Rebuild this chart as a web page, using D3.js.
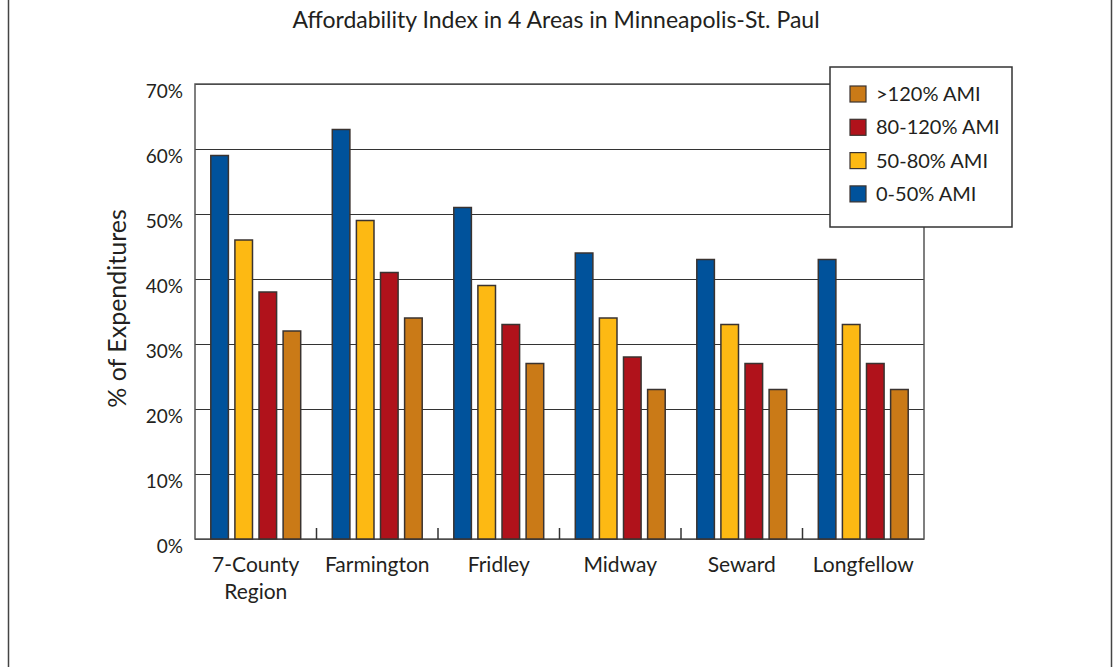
<!DOCTYPE html>
<html>
<head>
<meta charset="utf-8">
<script src="https://cdn.jsdelivr.net/npm/d3@7"></script>
<style>
  body { margin: 0; background: #fff; }
  svg { display: block; font-family: Lato, "Open Sans", sans-serif; }
</style>
</head>
<body>
<div id="chart"></div>
<script>
// categories and series
const areas = ['7-County Region', 'Farmington', 'Fridley', 'Midway', 'Seward', 'Longfellow'];
const series = ['0-50% AMI', '50-80% AMI', '80-120% AMI', '>120% AMI'];
const seriesColors = ['#00529b', '#fdb913', '#b0121b', '#ca7a17'];

// values in % of expenditures, one array per series
const ami0to50 = [59, 63, 51, 44, 43, 43];
const ami50to80 = [46, 49, 39, 34, 33, 33];
const ami80to120 = [38, 41, 33, 28, 27, 27];
const amiOver120 = [32, 34, 27, 23, 23, 23];

const yTicks = [0, 10, 20, 30, 40, 50, 60, 70];

const data = areas.map((a, i) => ({
    area: a,
    values: [ami0to50[i], ami50to80[i], ami80to120[i], amiOver120[i]]
}));

const width = 1115;
const height = 667;
const margin = { top: 84, right: 191, bottom: 128, left: 195 };
const w = width - margin.left - margin.right;
const h = height - margin.top - margin.bottom;

const svg = d3.select('#chart').append('svg')
    .attr('width', width)
    .attr('height', height);

// outer border lines (left and right only)
svg.append('line').attr('x1', 8.5).attr('x2', 8.5).attr('y1', 0).attr('y2', height)
    .attr('stroke', '#444').attr('stroke-width', 1.5);
svg.append('line').attr('x1', 1111.5).attr('x2', 1111.5).attr('y1', 0).attr('y2', height)
    .attr('stroke', '#444').attr('stroke-width', 1.5);

svg.append('text')
    .attr('x', 556).attr('y', 28)
    .attr('text-anchor', 'middle')
    .style('font-size', '23px').style('fill', '#231f20')
    .text('Affordability Index in 4 Areas in Minneapolis-St. Paul');

const g = svg.append('g').attr('transform', `translate(${margin.left},${margin.top})`);

const x0 = d3.scaleBand().domain(areas).range([0, w]).paddingInner(0.26).paddingOuter(0.13);
const x1 = d3.scaleBand().domain(series).range([0, x0.bandwidth()]).paddingInner(0.27);
const y = d3.scaleLinear().domain([0, 70]).range([h, 0]);

// y axis with gridlines
const yAxis = g.append('g')
    .call(d3.axisLeft(y).tickValues(yTicks).tickSize(-w).tickPadding(12).tickFormat(d => d + '%'));
yAxis.select('.domain').remove();
yAxis.selectAll('.tick line').attr('stroke', '#333').attr('stroke-width', 1.2);
yAxis.selectAll('.tick text')
    .attr('dy', '0.95em')
    .attr('y', -5)
    .style('font-size', '19px').style('fill', '#231f20')
    .style('font-family', 'Lato, "Open Sans", sans-serif');

// plot frame
g.append('rect').attr('width', w).attr('height', h)
    .attr('fill', 'none').attr('stroke', '#555').attr('stroke-width', 1.5);

// ticks between categories
g.append('g').selectAll('line')
    .data(areas.slice(1))
    .join('line')
    .attr('x1', d => x0(d) - x0.step() * x0.paddingInner() / 2)
    .attr('x2', d => x0(d) - x0.step() * x0.paddingInner() / 2)
    .attr('y1', h).attr('y2', h - 11)
    .attr('stroke', '#333').attr('stroke-width', 1.5);

// bars
g.append('g').selectAll('g')
    .data(data)
    .join('g')
    .attr('transform', d => `translate(${x0(d.area)},0)`)
    .selectAll('rect')
    .data(d => d.values.map((v, i) => ({ key: series[i], value: v, color: seriesColors[i] })))
    .join('rect')
    .attr('x', d => x1(d.key))
    .attr('y', d => y(d.value))
    .attr('width', x1.bandwidth())
    .attr('height', d => h - y(d.value))
    .attr('fill', d => d.color)
    .attr('stroke', '#3a3330')
    .attr('stroke-width', 1.5);

// x labels
const xLab = g.append('g').selectAll('text')
    .data(areas)
    .join('text')
    .attr('text-anchor', 'middle')
    .attr('x', d => x0(d) + x0.bandwidth() / 2)
    .attr('y', h + 33)
    .style('font-size', '21px').style('fill', '#231f20');
xLab.each(function (d) {
    const t = d3.select(this);
    const parts = d === '7-County Region' ? ['7-County', 'Region'] : [d];
    parts.forEach((p, i) => {
        t.append('tspan').attr('x', x0(d) + x0.bandwidth() / 2).attr('dy', i === 0 ? 0 : 27).text(p);
    });
});

// y title
svg.append('text')
    .attr('transform', `translate(126,${margin.top + h / 2 - 3}) rotate(-90)`)
    .attr('text-anchor', 'middle')
    .style('font-size', '25px').style('fill', '#231f20')
    .text('% of Expenditures');

// legend
const legend = svg.append('g').attr('transform', 'translate(830,67)');
legend.append('rect').attr('width', 182).attr('height', 160)
    .attr('fill', '#fff').attr('stroke', '#333').attr('stroke-width', 1.5);
const legendItems = series.slice().reverse();
const legendColors = seriesColors.slice().reverse();
const li = legend.selectAll('g.item')
    .data(legendItems)
    .join('g')
    .attr('class', 'item')
    .attr('transform', (d, i) => `translate(20,${27 + i * 33.3})`);
li.append('rect')
    .attr('x', 0).attr('y', -8).attr('width', 16).attr('height', 16)
    .attr('fill', (d, i) => legendColors[i])
    .attr('stroke', '#3a3330').attr('stroke-width', 1.2);
li.append('text')
    .attr('x', 26).attr('y', 0).attr('dy', '0.35em')
    .style('font-size', '20px').style('fill', '#231f20')
    .text(d => d);
</script>
</body>
</html>
